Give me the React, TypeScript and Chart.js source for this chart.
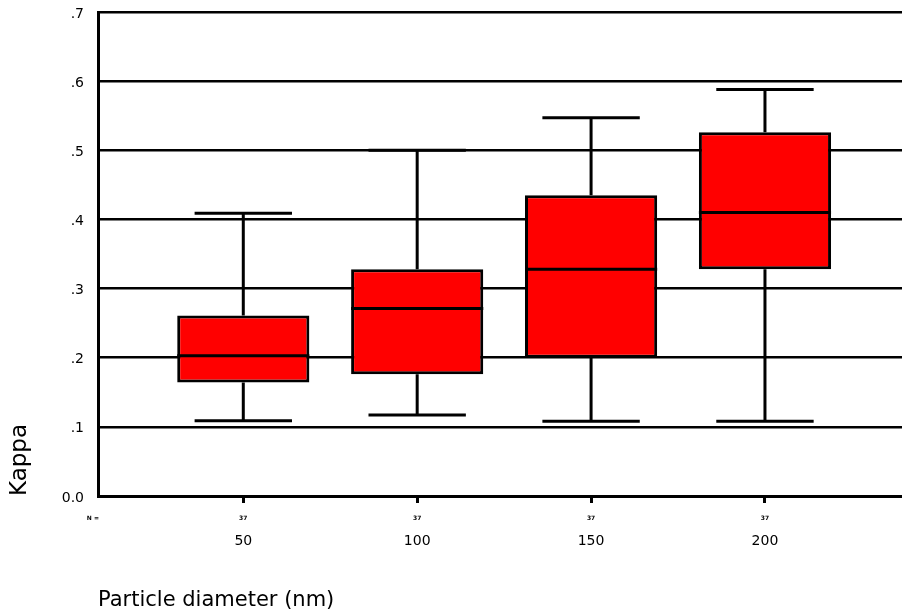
import React, { useEffect, useRef } from "react";
import { Chart, registerables } from "chart.js";

Chart.register(...registerables);

const categories = ["50", "100", "150", "200"];
const sampleSizes = [37, 37, 37, 37];
const whiskerLow = [0.109, 0.117, 0.108, 0.108];
const quartile1 = [0.164, 0.176, 0.2, 0.328];
const medians = [0.203, 0.271, 0.328, 0.41];
const quartile3 = [0.261, 0.328, 0.435, 0.526];
const whiskerHigh = [0.409, 0.5, 0.547, 0.588];
const yTickLabels = ["0.0", ".1", ".2", ".3", ".4", ".5", ".6", ".7"];

const BOX_RATIO = 0.76;
const CAP_HALF = 0.28;
const FONT = '"DejaVu Sans", sans-serif';

const nLabelPlugin = {
  id: "nLabels",
  afterDraw(chart: any) {
    const { ctx, scales, chartArea } = chart;
    const x = scales.x;
    const yPos = x.top + 22;
    ctx.save();
    ctx.fillStyle = "#000";
    ctx.font = `bold 6px ${FONT}`;
    ctx.textBaseline = "middle";
    ctx.textAlign = "right";
    ctx.fillText("N =", chartArea.left + 1, yPos);
    ctx.textAlign = "center";
    sampleSizes.forEach((n, i) => {
      ctx.fillText(String(n), x.getPixelForValue(i + 1), yPos);
    });
    ctx.restore();
  },
};

export default function App() {
  const ref = useRef<HTMLCanvasElement | null>(null);

  useEffect(() => {
    if (!ref.current) return;
    const half = BOX_RATIO / 2;
    const medianPts: any[] = [];
    const whiskerPts: any[] = [];
    categories.forEach((_, i) => {
      const c = i + 1;
      medianPts.push({ x: c - half, y: medians[i] }, { x: c + half, y: medians[i] }, { x: c, y: null });
      whiskerPts.push(
        { x: c, y: quartile3[i] }, { x: c, y: whiskerHigh[i] }, { x: c, y: null },
        { x: c - CAP_HALF, y: whiskerHigh[i] }, { x: c + CAP_HALF, y: whiskerHigh[i] }, { x: c, y: null },
        { x: c, y: quartile1[i] }, { x: c, y: whiskerLow[i] }, { x: c, y: null },
        { x: c - CAP_HALF, y: whiskerLow[i] }, { x: c + CAP_HALF, y: whiskerLow[i] }, { x: c, y: null }
      );
    });

    const chart = new Chart(ref.current, {
      type: "bar",
      data: {
        datasets: [
          {
            type: "bar",
            label: "Box",
            data: categories.map((_, i) => ({ x: i + 1, y: [quartile1[i], quartile3[i]] })) as any,
            backgroundColor: "#ff0000",
            borderColor: "#000",
            borderWidth: 3,
            borderSkipped: false,
            barPercentage: BOX_RATIO,
            categoryPercentage: 1,
            order: 2,
          },
          {
            type: "line",
            label: "Whiskers",
            data: whiskerPts,
            borderColor: "#000",
            borderWidth: 3,
            pointRadius: 0,
            spanGaps: false,
            tension: 0,
            order: 3,
          },
          {
            type: "line",
            label: "Median",
            data: medianPts,
            borderColor: "#000",
            borderWidth: 3,
            pointRadius: 0,
            spanGaps: false,
            tension: 0,
            order: 1,
          },
        ] as any,
      },
      options: {
        animation: false,
        responsive: true,
        maintainAspectRatio: false,
        layout: { padding: { top: 12, right: 0, bottom: 0, left: 0 } },
        plugins: { legend: { display: false }, tooltip: { enabled: false } },
        scales: {
          x: {
            type: "linear",
            offset: false,
            min: 0.1645,
            max: 4.788,
            afterBuildTicks: (scale: any) => {
              scale.ticks = categories.map((_, i) => ({ value: i + 1 }));
            },
            afterFit: (scale: any) => {
              scale.height = 119;
            },
            grid: {
              display: true,
              offset: false,
              drawOnChartArea: false,
              drawTicks: true,
              tickLength: 7,
              color: "#000",
              lineWidth: 3,
            },
            border: { display: true, color: "#000", width: 3 },
            ticks: {
              autoSkip: false,
              maxRotation: 0,
              padding: 30,
              color: "#000",
              font: { family: FONT, size: 14 },
              callback: (v: any) => categories[Math.round(Number(v)) - 1] ?? "",
            },
            title: {
              display: true,
              text: "Particle diameter (nm)",
              align: "start",
              color: "#000",
              font: { family: FONT, size: 21 },
              padding: { top: 0, bottom: 2 },
            },
          },
          y: {
            type: "linear",
            min: 0,
            max: 0.7,
            afterFit: (scale: any) => {
              scale.width = 98;
              scale.paddingTop = 0;
              scale.paddingBottom = 0;
            },
            grid: {
              display: true,
              drawTicks: false,
              color: "#000",
              lineWidth: 2.5,
            },
            border: { display: true, color: "#000", width: 3 },
            ticks: {
              stepSize: 0.1,
              padding: 14,
              labelOffset: 2,
              color: "#000",
              font: { family: FONT, size: 14 },
              callback: (_v: any, index: number) => yTickLabels[index] ?? "",
            },
            title: {
              display: true,
              text: "Kappa",
              align: "start",
              color: "#000",
              font: { family: FONT, size: 23 },
              padding: { top: 6, bottom: 0 },
            },
          },
        },
      } as any,
      plugins: [nLabelPlugin],
    });
    return () => chart.destroy();
  }, []);

  return (
    <div style={{ position: "fixed", left: 0, top: 0, width: 902, height: 615, background: "#fff" }}>
      <canvas ref={ref} />
    </div>
  );
}
